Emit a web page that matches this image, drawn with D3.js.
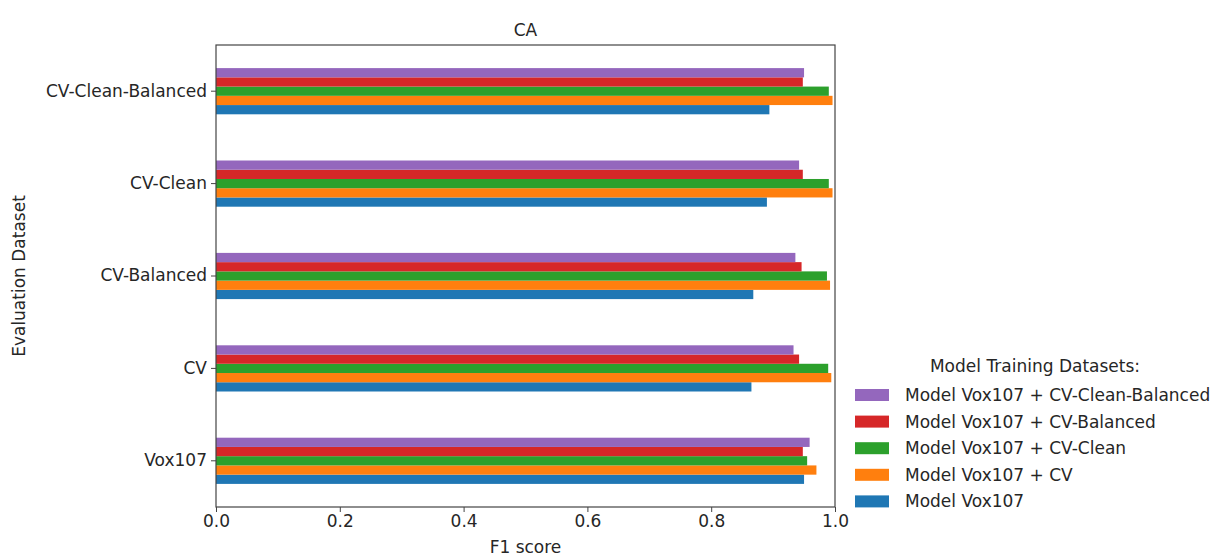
<!DOCTYPE html>
<html>
<head>
<meta charset="utf-8">
<script src="https://cdn.jsdelivr.net/npm/d3@7"></script>
<style>
  body { margin: 0; background: #fff; }
  text { font-family: "DejaVu Sans", sans-serif; fill: #262626; }
</style>
</head>
<body>
<svg width="1218" height="558"></svg>
<script>
// evaluation datasets, bottom to top
const categories = ['Vox107', 'CV', 'CV-Balanced', 'CV-Clean', 'CV-Clean-Balanced']
const seriesNames = ['Model Vox107', 'Model Vox107 + CV', 'Model Vox107 + CV-Clean',
  'Model Vox107 + CV-Balanced', 'Model Vox107 + CV-Clean-Balanced']
const colors = ['#1f77b4', '#ff7f0e', '#2ca02c', '#d62728', '#9467bd']
// one array per series, in category order
const vox107 = [0.950, 0.865, 0.868, 0.890, 0.894]
const vox107CV = [0.970, 0.994, 0.992, 0.996, 0.996]
const vox107Clean = [0.955, 0.989, 0.987, 0.990, 0.990]
const vox107Balanced = [0.948, 0.942, 0.946, 0.948, 0.948]
const vox107CleanBalanced = [0.959, 0.933, 0.936, 0.942, 0.950]
const series = [vox107, vox107CV, vox107Clean, vox107Balanced, vox107CleanBalanced]
const xTicks = [0, 0.2, 0.4, 0.6, 0.8, 1.0]

const svg = d3.select('svg')
const plotL = 216, plotR = 835, plotT = 45, plotB = 507
const fs = '17px'

const x = d3.scaleLinear().domain([0, 1]).range([plotL, plotR])
// pandas puts first category at bottom
const y = d3.scaleBand().domain(categories).range([plotB, plotT])
const groupH = y.bandwidth() * 0.5
const barH = groupH / series.length

const plot = svg.append('g')
series.forEach((vals, si) => {
  plot.selectAll(null)
    .data(vals)
    .join('rect')
    .attr('x', x(0))
    .attr('width', d => x(d) - x(0))
    // series 0 at the bottom of each group
    .attr('y', (d, i) => y(categories[i]) + y.bandwidth() / 2 + groupH / 2 - (si + 1) * barH)
    .attr('height', barH)
    .attr('fill', colors[si])
})

// frame
svg.append('rect')
  .attr('x', plotL).attr('y', plotT)
  .attr('width', plotR - plotL).attr('height', plotB - plotT)
  .attr('fill', 'none').attr('stroke', '#444').attr('stroke-width', 1.2)

const xAxis = svg.append('g')
  .attr('transform', `translate(0,${plotB})`)
  .call(d3.axisBottom(x).tickValues(xTicks).tickFormat(d3.format('.1f')).tickSize(5).tickPadding(3))
xAxis.select('.domain').remove()
xAxis.selectAll('text').style('font-size', fs).attr('fill', '#262626')
xAxis.selectAll('line').attr('stroke', '#444')

const yAxis = svg.append('g')
  .attr('transform', `translate(${plotL},0)`)
  .call(d3.axisLeft(y).tickSize(5).tickPadding(4))
yAxis.select('.domain').remove()
yAxis.selectAll('text').style('font-size', fs).attr('fill', '#262626')
yAxis.selectAll('line').attr('stroke', '#444')

svg.append('text')
  .attr('x', (plotL + plotR) / 2).attr('y', 36)
  .attr('text-anchor', 'middle')
  .style('font-size', fs)
  .text('CA')

svg.append('text')
  .attr('x', (plotL + plotR) / 2).attr('y', 553)
  .attr('text-anchor', 'middle')
  .style('font-size', fs)
  .text('F1 score')

svg.append('text')
  .attr('transform', `translate(25,${(plotT + plotB) / 2}) rotate(-90)`)
  .attr('text-anchor', 'middle')
  .style('font-size', fs)
  .text('Evaluation Dataset')

// legend, reversed order like matplotlib barh
const legend = svg.append('g').attr('transform', 'translate(855,0)')
legend.append('text')
  .attr('x', 180).attr('y', 372)
  .attr('text-anchor', 'middle')
  .style('font-size', fs)
  .text('Model Training Datasets:')
const order = d3.range(series.length).reverse()
order.forEach((si, k) => {
  const yy = 395 + k * 26.6
  legend.append('rect')
    .attr('x', 0).attr('y', yy - 6).attr('width', 34).attr('height', 12)
    .attr('fill', colors[si])
  legend.append('text')
    .attr('x', 50).attr('y', yy + 6)
    .style('font-size', fs)
    .text(seriesNames[si])
})
</script>
</body>
</html>
